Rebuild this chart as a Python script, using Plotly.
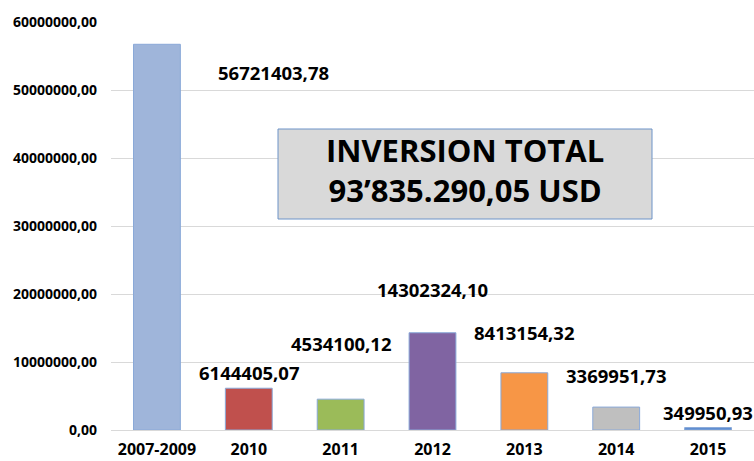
import plotly.graph_objects as go

categories = ["2007-2009", "2010", "2011", "2012", "2013", "2014", "2015"]
values = [56721403.78, 6144405.07, 4534100.12, 14302324.10, 8413154.32, 3369951.73, 349950.93]
bar_colors = ["#9fb5da", "#c0504d", "#9bbb59", "#8064a2", "#f79646", "#bfbfbf", "#5b8bd0"]
y_ticks = [0, 10000000, 20000000, 30000000, 40000000, 50000000, 60000000]
box_lines = ["INVERSION TOTAL", "93’835.290,05 USD"]

# label offsets (pixels) relative to bar top
label_dx = [117, 0, 0, 0, 0, 0, 0]
label_dy = [-28, 16, 56, 43, 40, 32, 15]

FONT = "Open Sans"

fig = go.Figure()
fig.add_trace(go.Bar(
    x=categories, y=values,
    marker=dict(color=bar_colors, line=dict(color="#8aa9d8", width=1)),
    width=0.51,
    hoverinfo="x+y",
))

for i, (v, dx, dy) in enumerate(zip(values, label_dx, label_dy)):
    fig.add_annotation(
        x=i, y=v, xref="x", yref="y",
        text=f"{v:.2f}".replace(".", ","),
        showarrow=False, xshift=dx, yshift=dy,
        font=dict(family=FONT, size=18.5, color="#000000", weight="bold"),
    )

L, R, T, B = 111, 0, 22, 31
W, H = 754, 461
pw, ph = W - L - R, H - T - B

def px_x(x):
    return (x - L) / pw

def px_y(y):
    return (H - B - y) / ph

fig.add_shape(
    type="rect", xref="paper", yref="paper",
    x0=px_x(278), x1=px_x(652), y0=px_y(219), y1=px_y(129),
    fillcolor="#d9d9d9", line=dict(color="#6d93c8", width=1),
)
fig.add_annotation(
    xref="paper", yref="paper", x=px_x(465), y=px_y(170),
    text="<br>".join(box_lines), showarrow=False,
    font=dict(family=FONT, size=31, color="#000000", weight="bold"),
    align="center",
)

fig.update_layout(
    width=W, height=H,
    margin=dict(l=L, r=R, t=T, b=B, autoexpand=False),
    plot_bgcolor="white", paper_bgcolor="white",
    separators=",.",
    showlegend=False,
    bargap=0.49,
)
fig.update_xaxes(
    type="category", range=[-0.5, 6.5], showgrid=False, showline=False,
    tickfont=dict(family=FONT, size=16, color="#000000", weight="bold"),
    ticklabelstandoff=8, automargin=False,
)
fig.update_yaxes(
    range=[0, 60000000], tickvals=y_ticks, tickformat=".2f",
    showgrid=True, gridcolor="#d9d9d9", gridwidth=1,
    zeroline=True, zerolinecolor="#d9d9d9", zerolinewidth=1,
    tickfont=dict(family=FONT, size=14, color="#000000", weight="bold"),
    ticklabelstandoff=13, automargin=False,
)

fig.write_html("out.html")
